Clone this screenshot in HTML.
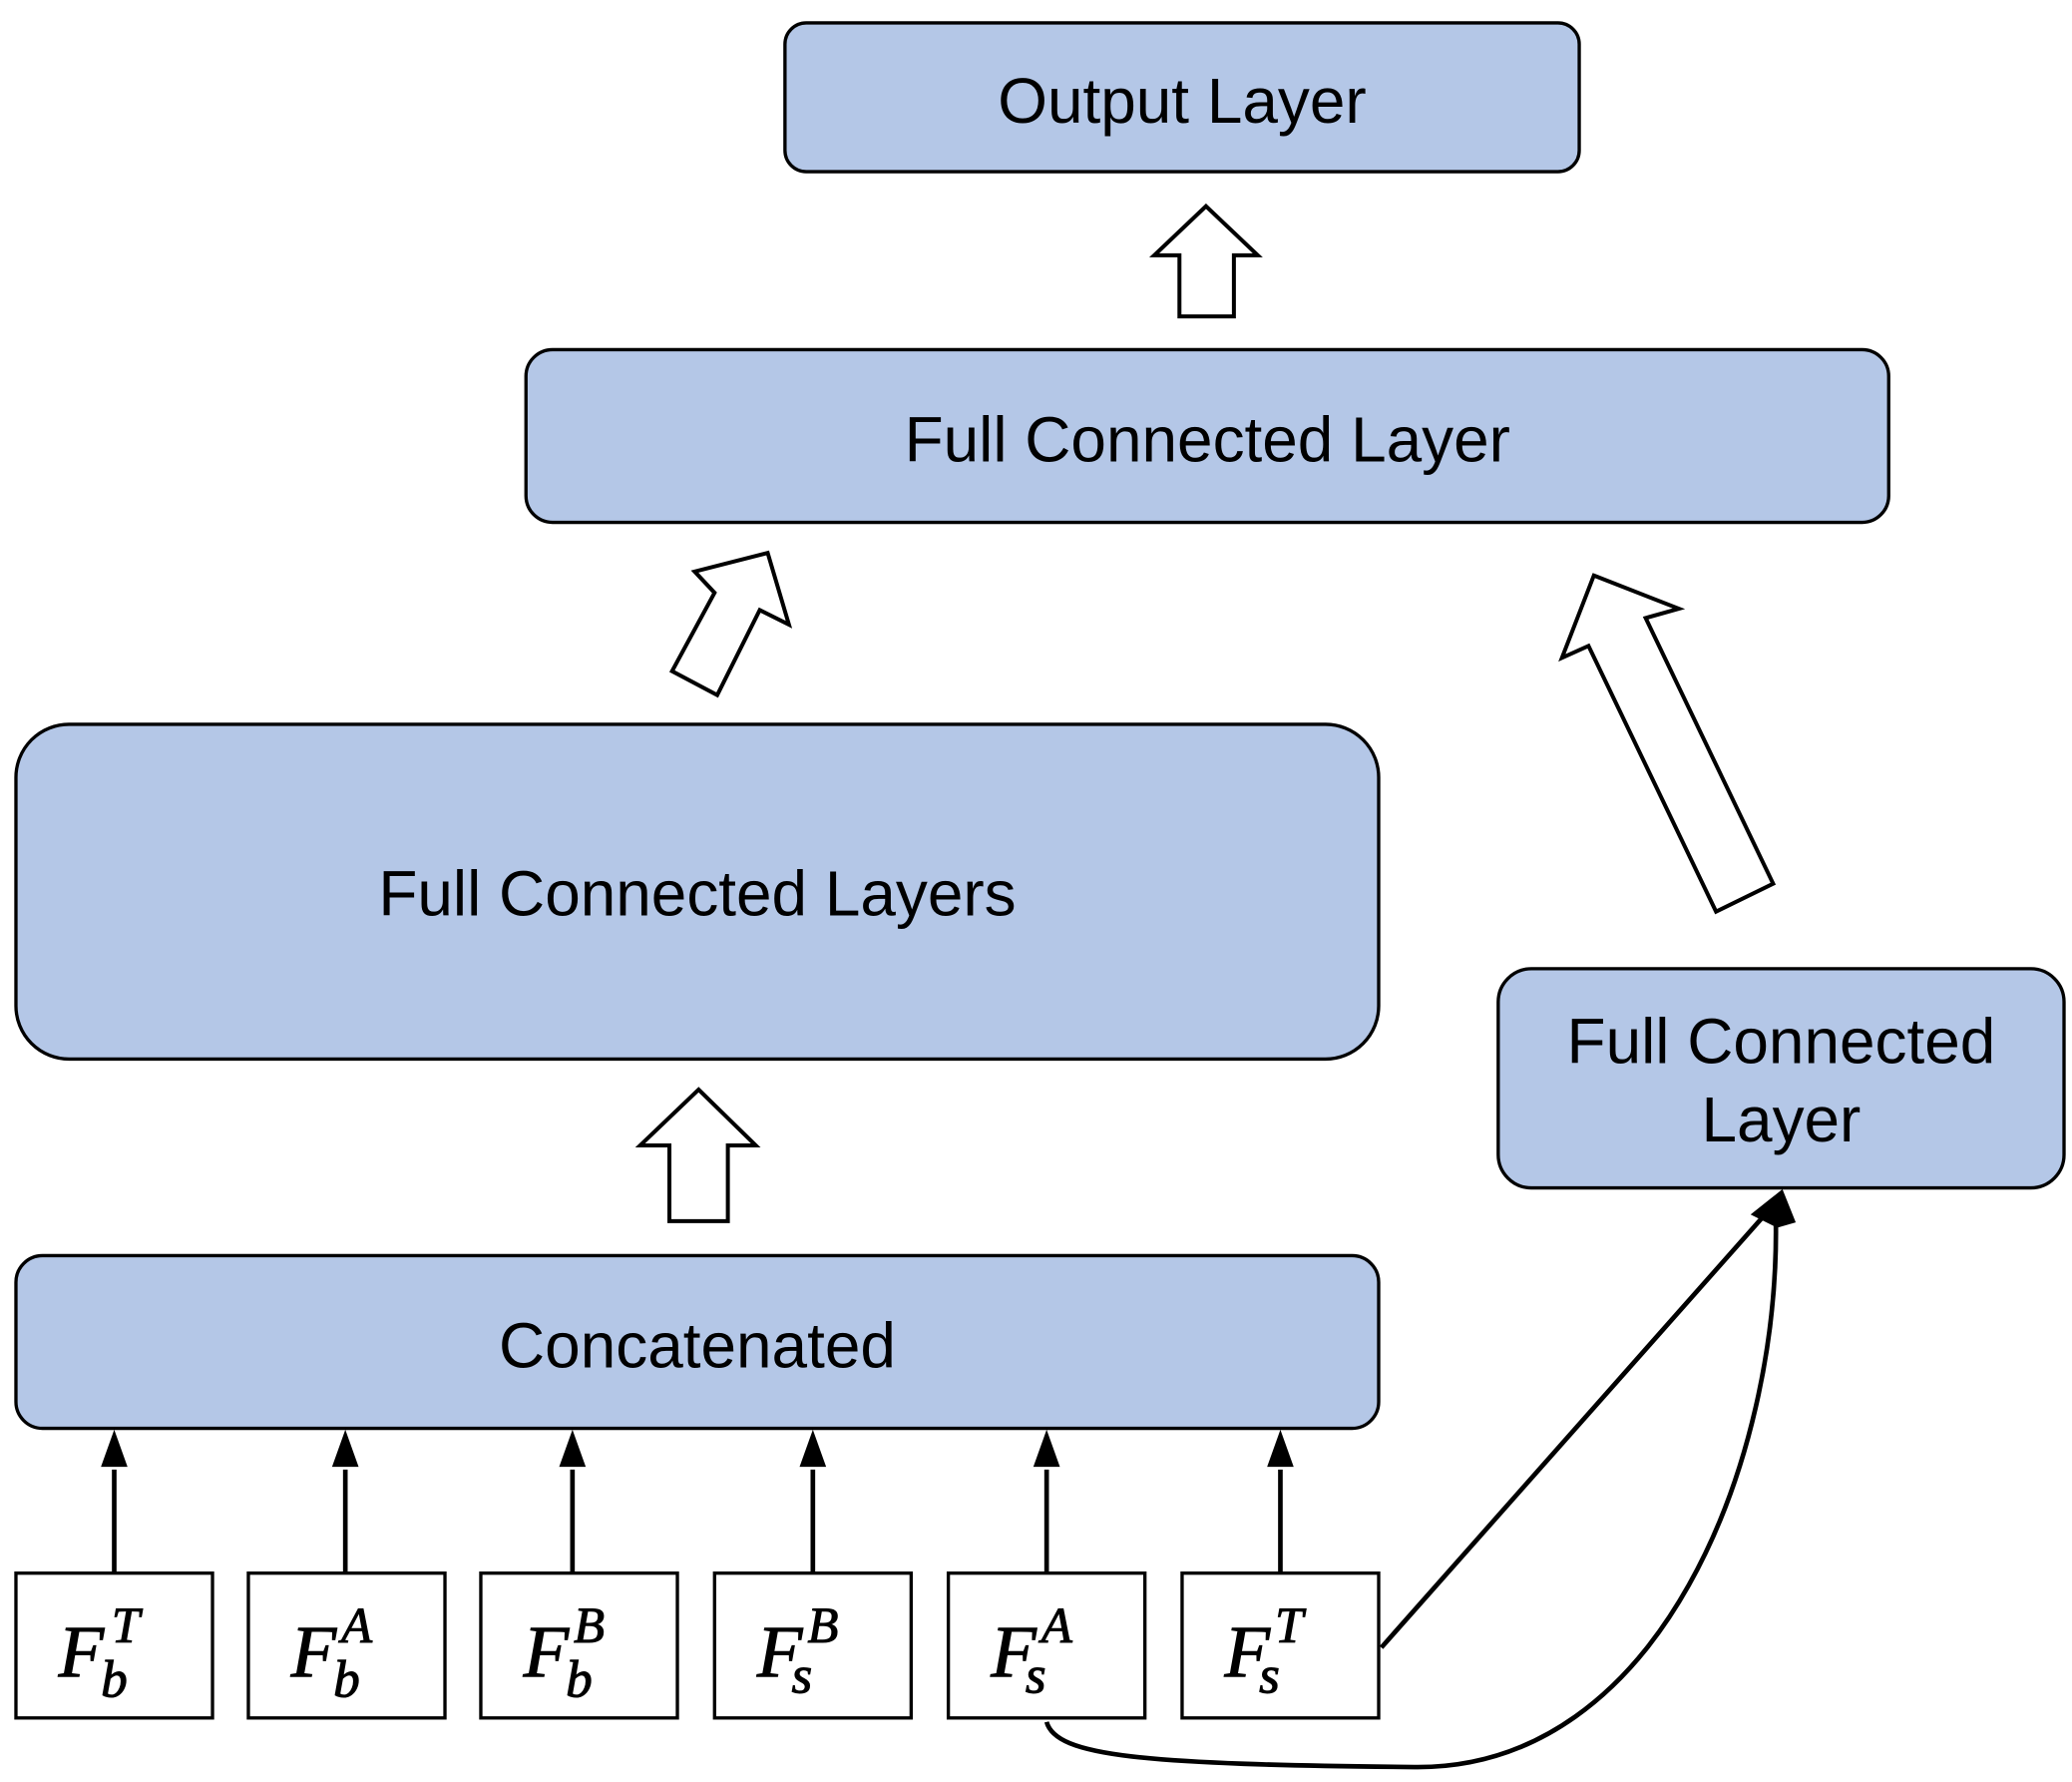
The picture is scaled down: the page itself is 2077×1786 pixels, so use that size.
<!DOCTYPE html>
<html><head><meta charset="utf-8"><style>
html,body{margin:0;padding:0;background:#fff;}
svg{display:block;}
.t{font-family:"Liberation Sans",sans-serif;font-size:48px;fill:#000;text-anchor:middle;}
.m{font-family:"Liberation Serif",serif;font-style:italic;fill:#000;}
</style></head><body>
<svg width="2077" height="1786" viewBox="0 0 1560 1341" xmlns="http://www.w3.org/2000/svg">
<g fill="#b4c7e7" stroke="#000" stroke-width="2.5">
<rect x="591" y="17" width="598" height="112" rx="16"/>
<rect x="396" y="263" width="1026" height="130" rx="20"/>
<rect x="12" y="545" width="1026" height="252" rx="40"/>
<rect x="12" y="945" width="1026" height="130" rx="20"/>
<rect x="1128" y="729" width="426" height="165" rx="25"/>
</g>
<text class="t" x="890" y="92">Output Layer</text>
<text class="t" x="909" y="347">Full Connected Layer</text>
<text class="t" x="525" y="689">Full Connected Layers</text>
<text class="t" x="525" y="1029">Concatenated</text>
<text class="t" x="1341" y="800">Full Connected</text>
<text class="t" x="1341" y="859">Layer</text>
<g fill="#fff" stroke="#000" stroke-width="3" stroke-linejoin="miter">
<path d="M908,155 L947,192 L929,192 L929,238 L888,238 L888,192 L869,192z"/>
<path d="M526,820 L569,862 L548,862 L548,919 L504,919 L504,862 L482,862z"/>
<path d="M578,416 L594,470 L572,459 L540,523 L506,505 L538,446 L523,430z"/>
<path d="M1200,433 L1264,458 L1239,465 L1335,665 L1292,686 L1196,486 L1176,495z"/>
</g>
<g fill="#fff" stroke="#000" stroke-width="2.5">
<rect x="12" y="1184" width="148" height="109"/>
<rect x="187" y="1184" width="148" height="109"/>
<rect x="362" y="1184" width="148" height="109"/>
<rect x="538" y="1184" width="148" height="109"/>
<rect x="714" y="1184" width="148" height="109"/>
<rect x="890" y="1184" width="148" height="109"/>
</g>
<g stroke="#000" stroke-width="3.5">
<line x1="86" y1="1184" x2="86" y2="1106"/>
<line x1="260" y1="1184" x2="260" y2="1106"/>
<line x1="431" y1="1184" x2="431" y2="1106"/>
<line x1="612" y1="1184" x2="612" y2="1106"/>
<line x1="788" y1="1184" x2="788" y2="1106"/>
<line x1="964" y1="1184" x2="964" y2="1106"/>
</g>
<g fill="#000">
<path d="M86,1076 L76,1104 L96,1104z"/>
<path d="M260,1076 L250,1104 L270,1104z"/>
<path d="M431,1076 L421,1104 L441,1104z"/>
<path d="M612,1076 L602,1104 L622,1104z"/>
<path d="M788,1076 L778,1104 L798,1104z"/>
<path d="M964,1076 L954,1104 L974,1104z"/>
</g>
<path d="M1040,1240 L1328,915" stroke="#000" stroke-width="3.5" fill="none"/>
<path d="M788,1296 C795,1322 860,1328 1065,1330 C1250,1332 1340,1100 1337,918" stroke="#000" stroke-width="3.5" fill="none"/>
<path d="M1342,895 L1318,914 L1338,924 L1352,920z" fill="#000"/>
<g class="m" stroke="#000" stroke-width="0.8">
<text x="44" y="1262" font-size="56">F</text><text x="76" y="1277" font-size="40">b</text><text x="84" y="1236" font-size="38">T</text>
<text x="219" y="1262" font-size="56">F</text><text x="251" y="1277" font-size="40">b</text><text x="257" y="1236" font-size="38">A</text>
<text x="394" y="1262" font-size="56">F</text><text x="426" y="1277" font-size="40">b</text><text x="432" y="1236" font-size="38">B</text>
<text x="570" y="1262" font-size="56">F</text><text x="596" y="1274" font-size="40">s</text><text x="608" y="1236" font-size="38">B</text>
<text x="746" y="1262" font-size="56">F</text><text x="772" y="1274" font-size="40">s</text><text x="784" y="1236" font-size="38">A</text>
<text x="922" y="1262" font-size="56">F</text><text x="948" y="1274" font-size="40">s</text><text x="960" y="1236" font-size="38">T</text>
</g>
</svg>
</body></html>
